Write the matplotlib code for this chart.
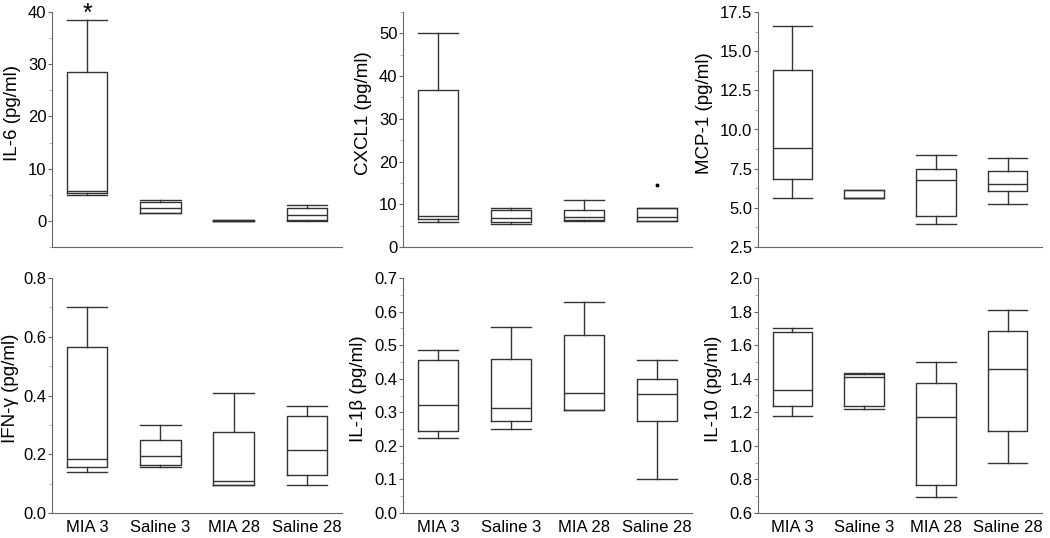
import matplotlib
matplotlib.use("Agg")
import matplotlib.pyplot as plt
from matplotlib.ticker import MultipleLocator

plt.rcParams['font.family'] = ['Liberation Sans', 'DejaVu Sans']

groups = ['MIA 3', 'Saline 3', 'MIA 28', 'Saline 28']

# each row: whislo, q1, med, q3, whishi
il6 = [[5.0, 5.3, 5.8, 28.6, 38.5], [1.6, 1.6, 2.5, 3.7, 4.0],
       [0.0, 0.0, 0.0, 0.1, 0.1], [0.0, 0.2, 1.2, 2.4, 3.1]]
cxcl1 = [[5.9, 6.5, 7.3, 36.7, 50.0], [5.3, 5.9, 6.9, 8.6, 9.1],
         [6.0, 6.3, 7.1, 8.7, 10.9], [6.0, 6.0, 7.0, 9.1, 9.1]]
cxcl1_out = [[], [], [], [14.5]]
mcp1 = [[5.65, 6.85, 8.8, 13.8, 16.6], [5.6, 5.6, 5.65, 6.15, 6.15],
        [3.95, 4.45, 6.8, 7.45, 8.4], [5.25, 6.05, 6.55, 7.35, 8.2]]
ifng = [[0.14, 0.155, 0.185, 0.565, 0.70], [0.155, 0.165, 0.195, 0.25, 0.30],
        [0.095, 0.095, 0.11, 0.275, 0.41], [0.095, 0.13, 0.215, 0.33, 0.365]]
il1b = [[0.222, 0.245, 0.322, 0.457, 0.487], [0.25, 0.273, 0.312, 0.46, 0.555],
        [0.307, 0.307, 0.358, 0.53, 0.63], [0.10, 0.275, 0.353, 0.40, 0.457]]
il10 = [[1.18, 1.24, 1.335, 1.68, 1.70], [1.22, 1.235, 1.41, 1.43, 1.435],
        [0.695, 0.765, 1.17, 1.375, 1.50], [0.90, 1.09, 1.455, 1.685, 1.81]]

panels = [
    ('IL-6 (pg/ml)', il6, None, (-5, 40), 10, 5),
    ('CXCL1 (pg/ml)', cxcl1, cxcl1_out, (0, 55), 10, 5),
    ('MCP-1 (pg/ml)', mcp1, None, (2.5, 17.5), 2.5, 1.25),
    ('IFN-\u03b3 (pg/ml)', ifng, None, (0, 0.8), 0.2, 0.1),
    ('IL-1\u03b2 (pg/ml)', il1b, None, (0, 0.7), 0.1, 0.05),
    ('IL-10 (pg/ml)', il10, None, (0.6, 2.0), 0.2, 0.1),
]

fmts = ['{:.0f}', '{:.0f}', '{:.1f}', '{:.1f}', '{:.1f}', '{:.1f}']

fig = plt.figure(figsize=(10.5, 5.38), dpi=100)
lefts = [52, 403, 758]
widths = [290, 289, 284]
for i, (label, data, outl, ylim, major, minor) in enumerate(panels):
    row, col = divmod(i, 3)
    if row == 0:
        bottom, top = 538 - 247, 538 - 12
    else:
        bottom, top = 538 - 513, 538 - 278
    ax = fig.add_axes([lefts[col] / 1050, bottom / 538, widths[col] / 1050, (top - bottom) / 538])
    stats = []
    for k, d in enumerate(data):
        stats.append(dict(whislo=d[0], q1=d[1], med=d[2], q3=d[3], whishi=d[4],
                          fliers=outl[k] if outl else []))
    lc = '#333333'
    ax.bxp(stats, positions=[1, 2, 3, 4], widths=0.55, capwidths=0.55,
           boxprops=dict(color=lc, lw=1.0), whiskerprops=dict(color=lc, lw=1.0),
           capprops=dict(color=lc, lw=1.0), medianprops=dict(color=lc, lw=1.0),
           flierprops=dict(marker='o', markersize=1.8, markerfacecolor='k', markeredgecolor='k'))
    ax.set_xlim(0.52, 4.48)
    ax.set_ylim(*ylim)
    ax.yaxis.set_major_locator(MultipleLocator(major))
    ax.yaxis.set_minor_locator(MultipleLocator(minor))
    ticks = [t for t in ax.get_yticks() if ylim[0] - 1e-9 <= t <= ylim[1] + 1e-9]
    if i == 0:
        ticks = [t for t in ticks if t >= 0]
    ax.set_yticks(ticks)
    ax.set_yticklabels([fmts[i].format(t) for t in ticks])
    ax.set_ylim(*ylim)
    ax.set_ylabel(label, fontsize=13.5, labelpad=3 if i == 3 else 5)
    ax.yaxis.label.set_y(0.57 if row == 0 else 0.53)
    ax.tick_params(axis='y', labelsize=12, length=3, color='#666666', pad=1)
    ax.tick_params(axis='y', which='minor', length=2, color='#aaaaaa')
    ax.spines['top'].set_visible(False)
    ax.spines['right'].set_visible(False)
    ax.spines['left'].set_color('#666666')
    ax.spines['bottom'].set_color('#666666')
    ax.set_xticks([1, 2, 3, 4])
    if row == 1:
        ax.set_xticklabels(groups, fontsize=12)
    else:
        ax.set_xticklabels([])
    ax.tick_params(axis='x', length=0, pad=5)
    if i == 0:
        ax.text(1, 39.6, '*', ha='center', va='center', fontsize=18, clip_on=False)

fig.savefig('out.png', dpi=100)
